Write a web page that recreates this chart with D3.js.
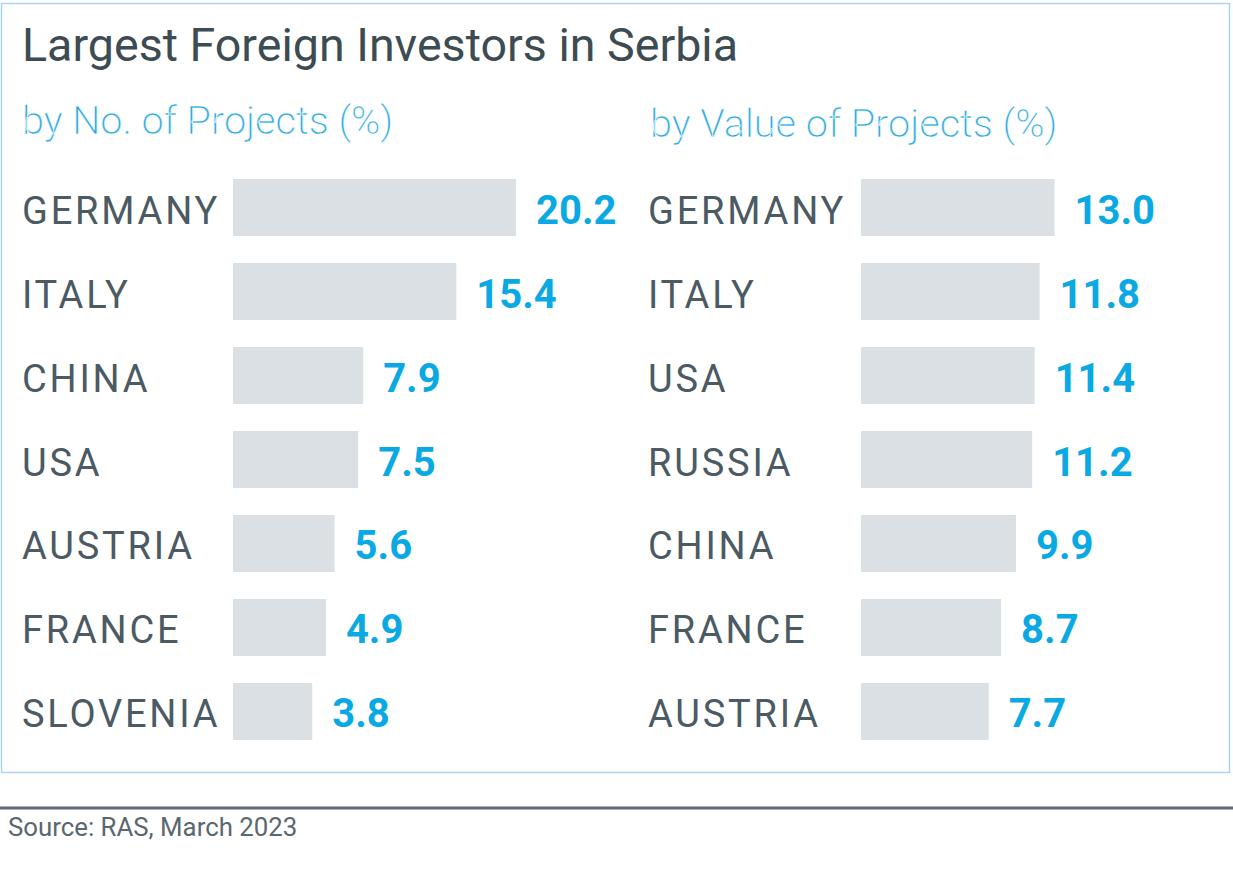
<!DOCTYPE html>
<html>
<head>
<meta charset="utf-8">
<script src="https://cdn.jsdelivr.net/npm/d3@7"></script>
<style>
  body { margin: 0; background: #fff; }
  svg { display: block; font-family: Roboto, "Noto Sans", sans-serif; }
</style>
</head>
<body>
<svg width="1233" height="876"></svg>
<script>
// data
var title = "Largest Foreign Investors in Serbia";
var source = "Source: RAS, March 2023";

var leftTitle = "by No. of Projects (%)";
var leftCountries = ["GERMANY", "ITALY", "CHINA", "USA", "AUSTRIA", "FRANCE", "SLOVENIA"];
var leftValues = [20.2, 15.4, 7.9, 7.5, 5.6, 4.9, 3.8];

var rightTitle = "by Value of Projects (%)";
var rightCountries = ["GERMANY", "ITALY", "USA", "RUSSIA", "CHINA", "FRANCE", "AUSTRIA"];
var rightValues = [13.0, 11.8, 11.4, 11.2, 9.9, 8.7, 7.7];

var svg = d3.select("svg");

// frame round the chart
svg.append("rect")
    .attr("x", 1.5).attr("y", 3.5)
    .attr("width", 1228).attr("height", 769)
    .attr("fill", "none")
    .attr("stroke", "#a9d7ee")
    .attr("stroke-width", 1.5);

svg.append("text")
    .attr("x", 22).attr("y", 61)
    .attr("fill", "#3d4b53")
    .style("font-size", "46.6px")
    .text(title);

// shared width scale for both panels
var widthScale = d3.scaleLinear()
    .domain([0, 20.2])
    .range([32, 283]);

var rowScale = d3.scaleBand()
    .domain(d3.range(7))
    .range([179, 740])
    .paddingInner(0.3214);

var drawPanel = function(x0, barX, subTitle, subX, subY, countries, values) {
    var g = svg.append("g");

    // no light weight installed, a thin white stroke slims the glyphs a bit
    g.append("text")
        .attr("x", subX).attr("y", subY)
        .attr("fill", "#2aabe2")
        .attr("stroke", "#fff")
        .attr("stroke-width", 0.5)
        .style("font-size", "39.6px")
        .style("font-weight", 300)
        .text(subTitle);

    var rows = g.selectAll("g.row")
        .data(values.map(function(v, i) { return {name: countries[i], value: v, i: i}; }))
        .enter().append("g")
        .attr("class", "row");

    rows.append("rect")
        .attr("x", barX)
        .attr("y", function(d) { return rowScale(d.i); })
        .attr("width", function(d) { return widthScale(d.value); })
        .attr("height", rowScale.bandwidth())
        .attr("fill", "#dbe0e4");

    rows.append("text")
        .attr("x", x0)
        .attr("y", function(d) { return rowScale(d.i) + rowScale.bandwidth() / 2 + 16; })
        .attr("fill", "#4b5a63")
        .style("font-size", "38px")
        .style("letter-spacing", "2.8px")
        .text(function(d) { return d.name; });

    rows.append("text")
        .attr("x", function(d) { return barX + widthScale(d.value) + 20; })
        .attr("y", function(d) { return rowScale(d.i) + rowScale.bandwidth() / 2 + 16; })
        .attr("fill", "#0aa9e3")
        .style("font-size", "40px")
        .style("font-weight", 700)
        .text(function(d) { return d.value.toFixed(1); });
};

drawPanel(22, 233, leftTitle, 22, 134, leftCountries, leftValues);
drawPanel(648, 861, rightTitle, 650, 137, rightCountries, rightValues);

// source line under the frame
svg.append("line")
    .attr("x1", 0).attr("x2", 1233)
    .attr("y1", 808).attr("y2", 808)
    .attr("stroke", "#5e6d76")
    .attr("stroke-width", 3);

svg.append("text")
    .attr("x", 8).attr("y", 836)
    .attr("fill", "#5b6770")
    .style("font-size", "25.8px")
    .text(source);
</script>
</body>
</html>
